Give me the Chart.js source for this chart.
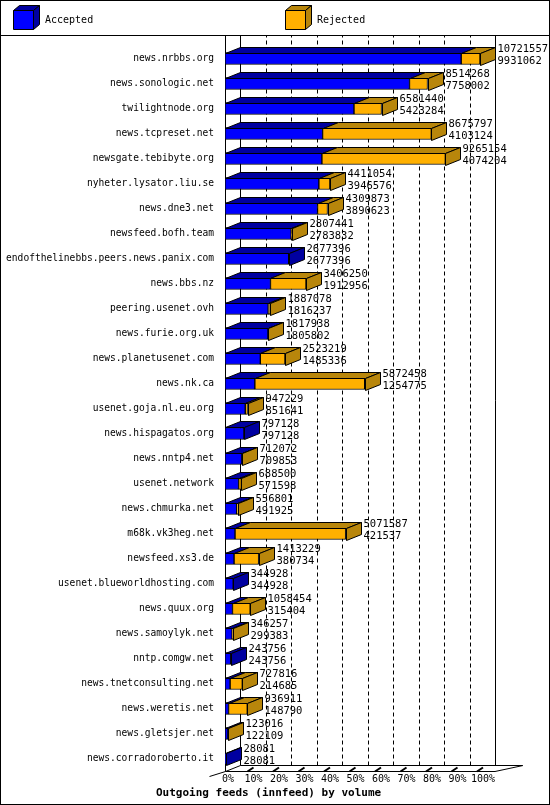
<!DOCTYPE html>
<html><head><meta charset="utf-8">
<script src="https://cdn.jsdelivr.net/npm/chart.js@4"></script>
<style>html,body{margin:0;padding:0;background:#fff}#w{width:550px;height:805px;position:relative}</style>
</head><body><div id="w"><canvas id="c" width="550" height="805"></canvas></div>
<script>
const categories=["news.nrbbs.org","news.sonologic.net","twilightnode.org","news.tcpreset.net","newsgate.tebibyte.org","nyheter.lysator.liu.se","news.dne3.net","newsfeed.bofh.team","endofthelinebbs.peers.news.panix.com","news.bbs.nz","peering.usenet.ovh","news.furie.org.uk","news.planetusenet.com","news.nk.ca","usenet.goja.nl.eu.org","news.hispagatos.org","news.nntp4.net","usenet.network","news.chmurka.net","m68k.vk3heg.net","newsfeed.xs3.de","usenet.blueworldhosting.com","news.quux.org","news.samoylyk.net","nntp.comgw.net","news.tnetconsulting.net","news.weretis.net","news.gletsjer.net","news.corradoroberto.it"];
const offered=[10721557,8514268,6581440,8675797,9265154,4411054,4309873,2807441,2677396,3406250,1887078,1817938,2523219,5872458,947229,797128,712072,688500,556801,5071587,1413229,344928,1058454,346257,243756,727816,936911,123016,28081];
const accepted=[9931062,7758002,5423284,4103124,4074204,3946576,3890623,2783832,2677396,1912956,1816237,1805802,1485336,1254775,851641,797128,709853,571598,491925,421537,380734,344928,315404,299383,243756,214685,148790,122109,28081];
const tickLabels=["0%","10%","20%","30%","40%","50%","60%","70%","80%","90%","100%"];
const maxOff=Math.max(...offered);
const accPct=accepted.map(v=>v/maxOff*100);
const rejPct=offered.map((v,i)=>(v-accepted[i])/maxOff*100);
const DX=15,DY=6;
const BLUE='#0000ff',BLUE_D='#0000a0',OR='#ffb000',OR_D='#b8860b';
const MONO='"DejaVu Sans Mono", monospace';
function poly(ctx,pts,fill){ctx.beginPath();ctx.moveTo(pts[0][0],pts[0][1]);for(let i=1;i<pts.length;i++)ctx.lineTo(pts[i][0],pts[i][1]);ctx.closePath();ctx.fillStyle=fill;ctx.fill();ctx.stroke();}
const deco={id:'deco',
beforeDraw(ch){const c=ch.ctx;c.save();c.fillStyle='#fff';c.fillRect(0,0,550,805);c.restore();},
beforeDatasetsDraw(ch){const c=ch.ctx,a=ch.chartArea,xs=ch.scales.x;c.save();
 c.strokeStyle='#000';c.lineWidth=1;
 c.strokeRect(0.5,0.5,549,804);c.beginPath();c.moveTo(0,35.5);c.lineTo(550,35.5);c.stroke();
 [[13,BLUE,BLUE_D,'Accepted'],[285,OR,OR_D,'Rejected']].forEach(([x,f,d,t])=>{
  poly(c,[[x+0.5,10.5],[x+6.5,5.5],[x+26.5,5.5],[x+20.5,10.5]],d);
  poly(c,[[x+20.5,10.5],[x+26.5,5.5],[x+26.5,24.5],[x+20.5,29.5]],d);
  poly(c,[[x+0.5,10.5],[x+20.5,10.5],[x+20.5,29.5],[x+0.5,29.5]],f);
  c.fillStyle='#000';c.font='10px '+MONO;c.textBaseline='middle';c.textAlign='left';c.fillText(t,x+32,20);});
 const L=Math.round(a.left)+0.5,B=Math.round(a.bottom)+0.5;
 c.beginPath();c.moveTo(L,36);c.lineTo(L,B);c.moveTo(L+DX,36);c.lineTo(L+DX,B-DY);
 c.moveTo(xs.getPixelForValue(100)+DX+0.5,36);c.lineTo(xs.getPixelForValue(100)+DX+0.5,B-DY);c.stroke();
 c.setLineDash([4,3]);
 for(let p=10;p<100;p+=10){const x=Math.round(xs.getPixelForValue(p))+DX+0.5;c.beginPath();c.moveTo(x,B-DY);c.lineTo(x,36);c.stroke();}
 c.setLineDash([]);
 const R=xs.getPixelForValue(100);
 c.beginPath();c.moveTo(L-16,B+5);c.lineTo(L,B);c.lineTo(L+DX,B-DY);c.lineTo(522,B-DY);
 c.moveTo(L,B);c.lineTo(R+DX,B);c.lineTo(R+DX+28,B-DY);c.stroke();
 for(let p=10;p<=100;p+=10){const x=xs.getPixelForValue(p);c.beginPath();c.moveTo(x-3,B);c.lineTo(x+3,B-DY+2);c.lineWidth=2;c.stroke();}
 c.lineWidth=1;
 c.fillStyle='#000';c.font='10px '+MONO;c.textAlign='center';c.textBaseline='top';
 tickLabels.forEach((t,i)=>c.fillText(t,xs.getPixelForValue(i*10)+3,B+3));
 c.font='bold 11px '+MONO;c.textAlign='left';c.fillText('Outgoing feeds (innfeed) by volume',156,B+16);
 c.restore();},
afterDatasetsDraw(ch){const c=ch.ctx;c.save();c.strokeStyle='#000';c.lineWidth=1;
 const m0=ch.getDatasetMeta(0).data,m1=ch.getDatasetMeta(1).data;
 categories.forEach((n,i)=>{const b0=m0[i],b1=m1[i];
  const top=Math.round(b0.y-b0.height/2)+0.5,bot=Math.round(b0.y+b0.height/2)+0.5;
  const x0=Math.round(b0.base)+0.5,x1=Math.round(b0.x)+0.5,x2=Math.round(b1.x)+0.5;
  poly(c,[[x0,top],[x1,top],[x1+DX,top-DY],[x0+DX,top-DY]],BLUE_D);
  if(rejPct[i]>0)poly(c,[[x1,top],[x2,top],[x2+DX,top-DY],[x1+DX,top-DY]],OR_D);
  poly(c,[[x2,top],[x2+DX,top-DY],[x2+DX,bot-DY],[x2,bot]],rejPct[i]>0?OR_D:BLUE_D);
  c.fillStyle='#000';c.font='10.5px '+MONO;c.textAlign='left';c.textBaseline='middle';
  c.fillText(String(offered[i]),x2+DX+2,b0.y-9);c.fillText(String(accepted[i]),x2+DX+2,b0.y+3);
 });c.restore();}};
new Chart(document.getElementById('c'),{type:'bar',
 data:{labels:categories,datasets:[
  {label:'Accepted',data:accPct,backgroundColor:BLUE,borderColor:'#000',borderWidth:1,borderSkipped:false},
  {label:'Rejected',data:rejPct,backgroundColor:OR,borderColor:'#000',borderWidth:1,borderSkipped:false}]},
 options:{indexAxis:'y',responsive:false,animation:false,barThickness:12,
  layout:{padding:{top:46,right:70,bottom:34,left:0}},
  plugins:{legend:{display:false},tooltip:{enabled:false}},
  scales:{x:{stacked:true,min:0,max:100,display:false},
   y:{stacked:true,grid:{display:false},border:{display:false},
    afterFit(s){s.width=225;},
    ticks:{color:'#000',font:{family:MONO,size:9.6},padding:3}}}},
 plugins:[deco]});
</script></body></html>
